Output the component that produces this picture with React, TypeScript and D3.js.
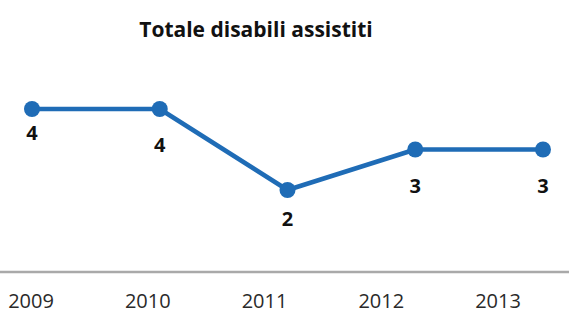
import * as d3 from "d3";

const years = ["2009", "2010", "2011", "2012", "2013"];
const totals = [4, 4, 2, 3, 3];
const title = "Totale disabili assistiti";

// how far below each point its value label sits
const labelNudge = [24, 36, 29, 36, 36];

const width = 569;
const height = 313;
const blue = "#1f6cb6";
const font = "'Open Sans', 'DejaVu Sans', sans-serif";

export default function App() {
  const x = d3.scalePoint<string>().domain(years).range([32, 543]);
  // the category labels are spaced a bit tighter than the points
  const xLabel = d3.scalePoint<string>().domain(years).range([31, 498]);
  const y = d3.scaleLinear().domain([0, 4]).range([271, 109]);

  const line = d3
    .line<number>()
    .x((_, i) => x(years[i])!)
    .y((d) => y(d));

  return (
    <svg
      width={width}
      height={height}
      style={{ position: "absolute", left: 0, top: 0, background: "#fff" }}
    >
      <text
        x={256}
        y={37}
        textAnchor="middle"
        fontFamily={font}
        fontWeight="bold"
        fontSize={21}
        fill="#111"
      >
        {title}
      </text>

      <line x1={0} x2={width} y1={y(0) + 1} y2={y(0) + 1} stroke="#a9a9a9" strokeWidth={2.5} />

      <path d={line(totals) ?? ""} fill="none" stroke={blue} strokeWidth={4.5} strokeLinejoin="round" />

      {totals.map((v, i) => (
        <circle key={"p" + i} cx={x(years[i])} cy={y(v)} r={8} fill={blue} />
      ))}

      {totals.map((v, i) => (
        <text
          key={"l" + i}
          x={x(years[i])}
          y={y(v) + labelNudge[i]}
          dy="0.35em"
          textAnchor="middle"
          fontFamily={font}
          fontWeight="bold"
          fontSize={20}
          fill="#111"
        >
          {v}
        </text>
      ))}

      {years.map((yr) => (
        <text
          key={yr}
          x={xLabel(yr)}
          y={301}
          dy="0.35em"
          textAnchor="middle"
          fontFamily={font}
          fontSize={20}
          fill="#2a2a2a"
        >
          {yr}
        </text>
      ))}
    </svg>
  );
}
